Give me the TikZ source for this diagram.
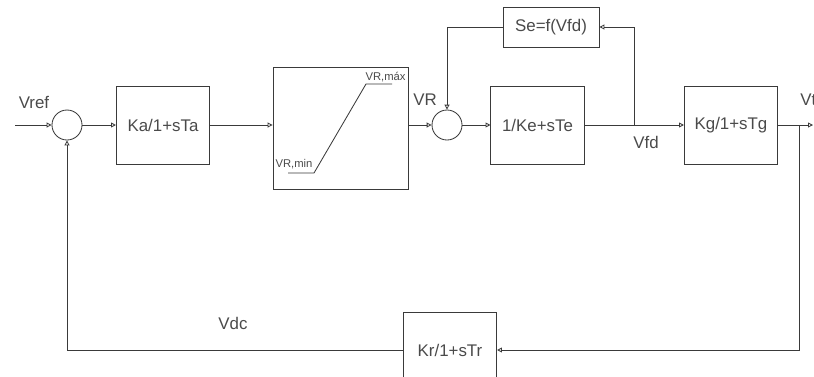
\documentclass[tikz,border=0pt]{standalone}
\usepackage{fontspec}
\setmainfont{Liberation Sans}
\usetikzlibrary{arrows.meta}
\definecolor{linegray}{HTML}{3A3A3A}
\definecolor{textgray}{HTML}{4A4A4A}
\tikzset{
    block/.style={draw=linegray, line width=0.6pt, minimum width=2.33cm, minimum height=1.95cm,
        text=textgray, font=\fontsize{12}{14}\selectfont},
    sumnode/.style={draw=linegray, line width=0.6pt, circle, minimum size=0.75cm, inner sep=0pt},
    lbl/.style={text=textgray, font=\fontsize{12}{14}\selectfont, inner sep=0pt},
    smalllbl/.style={text=textgray, font=\fontsize{8}{9}\selectfont, inner sep=0pt},
}
\begin{document}
\begin{tikzpicture}[x=0.025cm, y=-0.025cm, >={Triangle[open, length=3.5pt, width=3.5pt]},
    line width=0.6pt, draw=linegray]
    % 1. Vùng hiển thị
    \useasboundingbox (0,0) rectangle (814,376);
    \clip (0,0) rectangle (814,376);

    % 2. Các khối chính
    \coordinate (in) at (15,125);
    \node[sumnode] (sum1) at (67,125) {};
    \node[block] (ka) at (163,125) {Ka/1+sTa};
    \node[block, minimum width=3.375cm, minimum height=3.05cm] (lim) at (340.5,128) {};
    \node[sumnode] (sum2) at (447,125) {};
    \node[block] (ke) at (537.5,125) {1/Ke+sTe};
    \node[block] (kg) at (731,125) {Kg/1+sTg};
    \node[block, minimum width=2.4cm, minimum height=1cm] (se) at (551,27) {Se=f(Vfd)};
    \node[block, minimum height=1.9cm] (kr) at (450,350) {Kr/1+sTr};
    \coordinate (vfd) at (634,125);
    \coordinate (vt) at (799,125);
    \coordinate (out) at (813,125);

    % 3. Đặc tính giới hạn
    \draw[linegray] (288,173) -- (314,173) -- (366,84) -- (392,84);
    \node[smalllbl] (rmin) at (294,164) {VR,min};
    \node[smalllbl, anchor=east] (rmax) at (406,77) {VR,máx};

    % 4. Đường nối thuận
    \draw[->, linegray] (in) -- (sum1);
    \draw[->, linegray] (sum1) -- (ka);
    \draw[->, linegray] (ka) -- (ka -| lim.west);
    \draw[->, linegray] (lim.east |- sum2) -- (sum2);
    \draw[->, linegray] (sum2) -- (ke);
    \draw[->, linegray] (ke) -- (kg);
    \draw[->, linegray] (kg) -- (out);

    % 5. Các vòng hồi tiếp
    \draw[->, linegray] (vfd) |- (se.east);
    \draw[->, linegray] (se.west) -| (sum2.north);
    \draw[->, linegray] (vt) |- (kr.east);
    \draw[->, linegray] (kr.west) -| (sum1.south);

    % 6. Nhãn tín hiệu
    \node[lbl] (vref) at (34,102) {Vref};
    \node[lbl] (vr) at (425,100) {VR};
    \node[lbl] (vfdl) at (646,142) {Vfd};
    \node[lbl, anchor=west] (vtl) at (800,100) {Vt};
    \node[lbl] (vdc) at (233,323) {Vdc};
\end{tikzpicture}
\end{document}
